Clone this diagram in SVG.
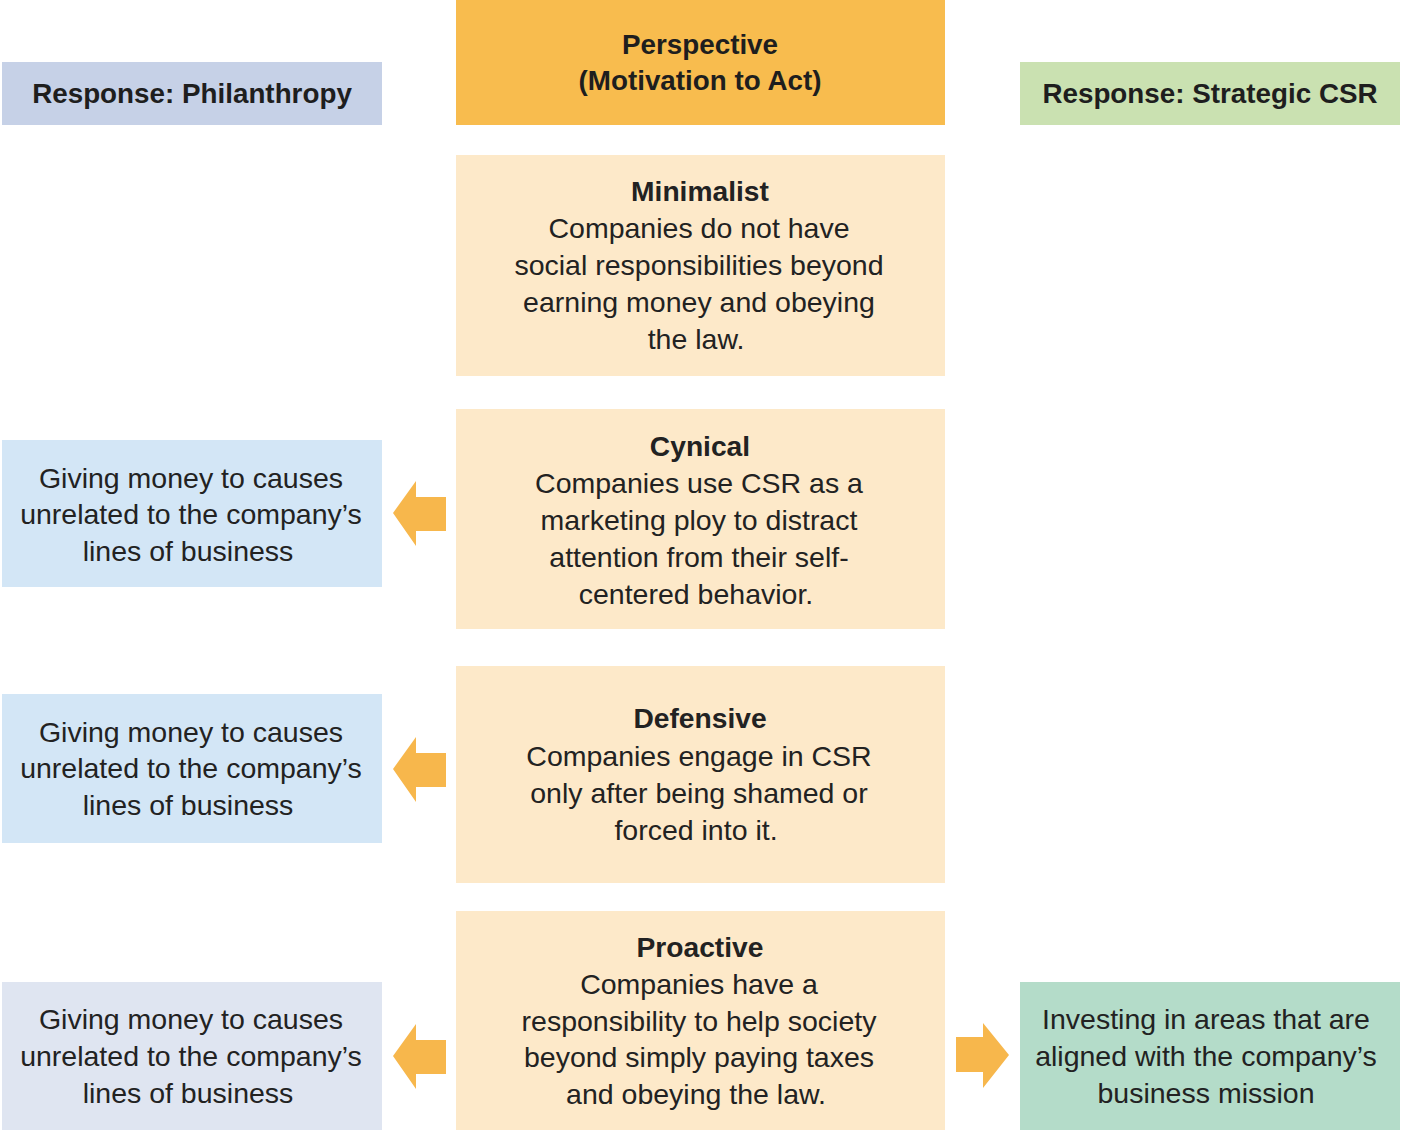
<svg xmlns="http://www.w3.org/2000/svg" width="1402" height="1132" viewBox="0 0 1402 1132">
<style>
.h{font-family:"Liberation Sans",Arial,sans-serif;font-weight:bold;font-size:27.8px;fill:#1e1e1e;text-anchor:middle}
.t{font-family:"Liberation Sans",Arial,sans-serif;font-size:28.5px;fill:#222;text-anchor:middle}
.tb{font-family:"Liberation Sans",Arial,sans-serif;font-weight:bold;font-size:28.2px;fill:#222;text-anchor:middle}
.p{fill:#fde9c9}
.ar{fill:#f7b74c}
</style>
<rect width="1402" height="1132" fill="#fff"/>
<g id="header-philanthropy"><rect x="2" y="62" width="380" height="63" fill="#c6d1e7"/><text class="h" x="192" y="103">Response: Philanthropy</text></g>
<g id="header-perspective"><rect x="456" y="0" width="489" height="125" fill="#f8bc4e"/><text class="h" x="700" y="54">Perspective</text><text class="h" x="700" y="90">(Motivation to Act)</text></g>
<g id="header-strategic"><rect x="1020" y="62" width="380" height="63" fill="#cae1b1"/><text class="h" x="1210" y="103">Response: Strategic CSR</text></g>
<g id="minimalist"><rect class="p" x="456" y="155" width="489" height="221"/><text class="tb" x="700" y="201">Minimalist</text><text class="t" x="699" y="238">Companies do not have</text><text class="t" x="699" y="275">social responsibilities beyond</text><text class="t" x="699" y="312">earning money and obeying</text><text class="t" x="696" y="349">the law.</text></g>
<g id="cynical"><rect class="p" x="456" y="409" width="489" height="220"/><text class="tb" x="700" y="456">Cynical</text><text class="t" x="699" y="493">Companies use CSR as a</text><text class="t" x="699" y="530">marketing ploy to distract</text><text class="t" x="699" y="567">attention from their self-</text><text class="t" x="696" y="604">centered behavior.</text></g>
<g id="defensive"><rect class="p" x="456" y="666" width="489" height="217"/><text class="tb" x="700" y="728">Defensive</text><text class="t" x="699" y="766">Companies engage in CSR</text><text class="t" x="699" y="803">only after being shamed or</text><text class="t" x="696" y="840">forced into it.</text></g>
<g id="proactive"><rect class="p" x="456" y="911" width="489" height="219"/><text class="tb" x="700" y="957">Proactive</text><text class="t" x="699" y="994">Companies have a</text><text class="t" x="699" y="1031">responsibility to help society</text><text class="t" x="699" y="1067">beyond simply paying taxes</text><text class="t" x="696" y="1104">and obeying the law.</text></g>
<g id="phil-cynical"><rect x="2" y="440" width="380" height="147" fill="#d3e6f6"/><text class="t" x="191" y="488">Giving money to causes</text><text class="t" x="191" y="524">unrelated to the company’s</text><text class="t" x="188" y="561">lines of business</text></g>
<g id="phil-defensive"><rect x="2" y="694" width="380" height="149" fill="#d3e6f6"/><text class="t" x="191" y="742">Giving money to causes</text><text class="t" x="191" y="778">unrelated to the company’s</text><text class="t" x="188" y="815">lines of business</text></g>
<g id="phil-proactive"><rect x="2" y="982" width="380" height="148" fill="#dfe5f1"/><text class="t" x="191" y="1029">Giving money to causes</text><text class="t" x="191" y="1066">unrelated to the company’s</text><text class="t" x="188" y="1103">lines of business</text></g>
<g id="strategic-proactive"><rect x="1020" y="982" width="380" height="148" fill="#b4dcc9"/><text class="t" x="1206" y="1029">Investing in areas that are</text><text class="t" x="1206" y="1066">aligned with the company’s</text><text class="t" x="1206" y="1103">business mission</text></g>
<g id="connectors">
<polygon class="ar" points="446,497 416,497 416,481 393,513 416,546 416,531 446,531"/>
<polygon class="ar" points="446,753 416,753 416,737 393,769 416,802 416,787 446,787"/>
<polygon class="ar" points="446,1040 416,1040 416,1024 393,1056 416,1089 416,1074 446,1074"/>
<polygon class="ar" points="956,1037 983,1037 983,1023 1009,1055 983,1088 983,1072 956,1072"/>
</g>
</svg>
